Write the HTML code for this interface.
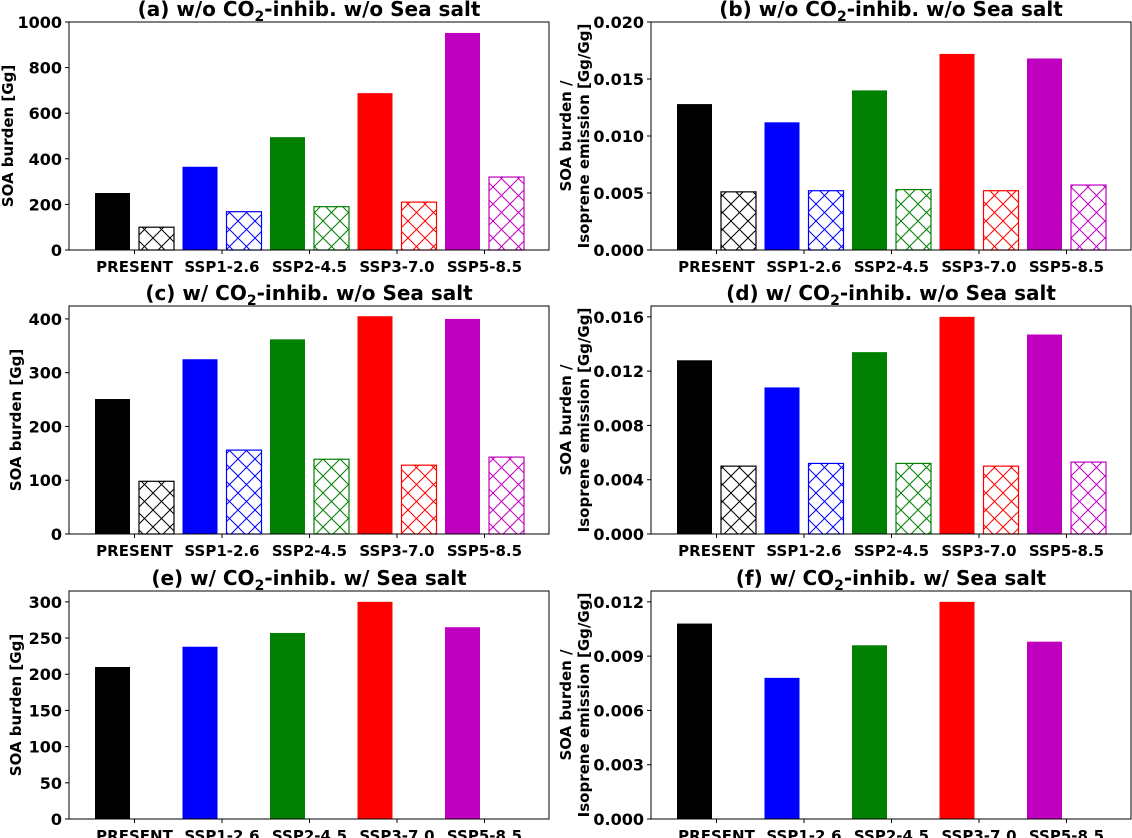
<!DOCTYPE html>
<html><head><meta charset="utf-8"><style>
body{margin:0;background:#fff;}
svg{display:block;font-family:"DejaVu Sans","Liberation Sans",sans-serif;font-weight:bold;}
</style></head><body>
<svg id="fig" width="1132" height="838" viewBox="0 0 1132 838" xmlns="http://www.w3.org/2000/svg">
<defs>
<pattern id="hk" width="17" height="17" patternUnits="userSpaceOnUse"><path d="M0,0L17,17M17,0L0,17" stroke="#000" stroke-width="1"/></pattern>
<pattern id="hb" width="17" height="17" patternUnits="userSpaceOnUse"><path d="M0,0L17,17M17,0L0,17" stroke="#00f" stroke-width="1"/></pattern>
<pattern id="hg" width="17" height="17" patternUnits="userSpaceOnUse"><path d="M0,0L17,17M17,0L0,17" stroke="#008000" stroke-width="1"/></pattern>
<pattern id="hr" width="17" height="17" patternUnits="userSpaceOnUse"><path d="M0,0L17,17M17,0L0,17" stroke="#f00" stroke-width="1"/></pattern>
<pattern id="hm" width="17" height="17" patternUnits="userSpaceOnUse"><path d="M0,0L17,17M17,0L0,17" stroke="#bf00bf" stroke-width="1"/></pattern>
</defs>
</svg>
<script>
const categories=["PRESENT","SSP1-2.6","SSP2-4.5","SSP3-7.0","SSP5-8.5"];
const colors=["#000","#00f","#008000","#f00","#bf00bf"];
const hatchIds=["hk","hb","hg","hr","hm"];
const aSolid=[250,365,495,688,952];
const aHatch=[100,168,190,210,320];
const bSolid=[0.0128,0.0112,0.0140,0.0172,0.0168];
const bHatch=[0.0051,0.0052,0.0053,0.0052,0.0057];
const cSolid=[251,325,362,405,400];
const cHatch=[98,156,139,128,143];
const dSolid=[0.0128,0.0108,0.0134,0.0160,0.0147];
const dHatch=[0.0050,0.0052,0.0052,0.0050,0.0053];
const eSolid=[210,238,257,300,265];
const fSolid=[0.0108,0.0078,0.0096,0.0120,0.0098];
const aTicks=[0,200,400,600,800,1000];
const bTicks=["0.000","0.005","0.010","0.015","0.020"];
const cTicks=[0,100,200,300,400];
const dTicks=["0.000","0.004","0.008","0.012","0.016"];
const eTicks=[0,50,100,150,200,250,300];
const fTicks=["0.000","0.003","0.006","0.009","0.012"];

const NS="http://www.w3.org/2000/svg";
const svg=document.getElementById('fig');
function mk(tag,attrs,parent){const e=document.createElementNS(NS,tag);for(const k in attrs)e.setAttribute(k,attrs[k]);(parent||svg).appendChild(e);return e;}

const panels=[
 {id:'a',L:69,T:22,ymax:1000,solid:aSolid,hatch:aHatch,ticks:aTicks,title:['(a) w/o CO','2','-inhib. w/o Sea salt'],ratio:false},
 {id:'b',L:651,T:22,ymax:0.020,solid:bSolid,hatch:bHatch,ticks:bTicks,title:['(b) w/o CO','2','-inhib. w/o Sea salt'],ratio:true},
 {id:'c',L:69,T:306,ymax:424,solid:cSolid,hatch:cHatch,ticks:cTicks,title:['(c) w/ CO','2','-inhib. w/o Sea salt'],ratio:false},
 {id:'d',L:651,T:306,ymax:0.0168,solid:dSolid,hatch:dHatch,ticks:dTicks,title:['(d) w/ CO','2','-inhib. w/o Sea salt'],ratio:true},
 {id:'e',L:69,T:591,ymax:315,solid:eSolid,hatch:null,ticks:eTicks,title:['(e) w/ CO','2','-inhib. w/ Sea salt'],ratio:false},
 {id:'f',L:651,T:591,ymax:0.0126,solid:fSolid,hatch:null,ticks:fTicks,title:['(f) w/ CO','2','-inhib. w/ Sea salt'],ratio:true}
];
const W=480,H=228;
panels.forEach(p=>{
 const g=mk('g',{});
 
 
 const y=v=>p.T+H-(v/p.ymax)*H;
 const xc=i=>p.L+65.5+87.5*i;
 categories.forEach((c,i)=>{
  const v=p.solid[i];
  const r=mk('rect',{x:xc(i)-39.5,y:y(v),width:35,height:p.T+H-y(v),fill:colors[i]},g);
  
  
  if(p.hatch){
   const hv=p.hatch[i];
   const h=mk('rect',{x:xc(i)+4.5,y:y(hv),width:35,height:p.T+H-y(hv),fill:'url(#'+hatchIds[i]+')',stroke:colors[i],'stroke-width':1.2},g);
   
   
  }
  mk('line',{x1:xc(i),x2:xc(i),y1:p.T+H,y2:p.T+H+4,stroke:'#000'},g);
  const t=mk('text',{x:xc(i),y:p.T+H+22,'text-anchor':'middle','font-size':15},g);
  t.textContent=c;
  
  
 });
 p.ticks.forEach(tk=>{
  const v=parseFloat(tk);const yy=y(v);
  mk('line',{x1:p.L-4,x2:p.L,y1:yy,y2:yy,stroke:'#000'},g);
  const t=mk('text',{x:p.L-7,y:yy+6,'text-anchor':'end','font-size':16},g);
  t.textContent=tk;
  
  
 });
 const fr=mk('rect',{x:p.L,y:p.T,width:W,height:H,fill:'none',stroke:'#000','stroke-width':1},g);
 
 
 const tt=mk('text',{x:p.L+W/2,y:p.T-6,'text-anchor':'middle','font-size':20},g);
 
 
 const s1=mk('tspan',{},tt);s1.textContent=p.title[0];
 const s2=mk('tspan',{dy:5,'font-size':14},tt);s2.textContent=p.title[1];
 const s3=mk('tspan',{dy:-5},tt);s3.textContent=p.title[2];
 const cy=p.T+H/2;
 if(!p.ratio){
  const lx=p.id==='a'?13:21;
  const yl=mk('text',{x:lx,y:cy,'text-anchor':'middle','font-size':15,transform:`rotate(-90 ${lx} ${cy})`},g);
  yl.textContent='SOA burden [Gg]';
  
  
 } else {
  const x1=p.L-80,x2=p.L-62;
  const y1=mk('text',{x:x1,y:cy,'text-anchor':'middle','font-size':15,transform:`rotate(-90 ${x1} ${cy})`},g);
  y1.textContent='SOA burden /';
  
  
  const y2=mk('text',{x:x2,y:cy,'text-anchor':'middle','font-size':15,transform:`rotate(-90 ${x2} ${cy})`},g);
  y2.textContent='Isoprene emission [Gg/Gg]';
  
  
 }
});
</script>
</body></html>
